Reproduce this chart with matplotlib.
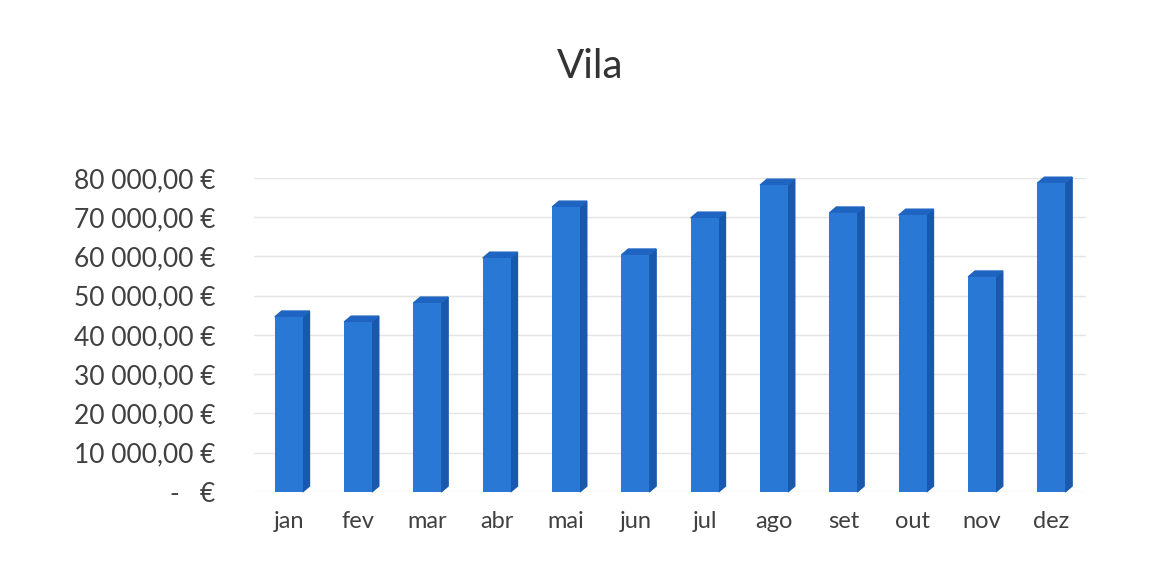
import matplotlib

matplotlib.use("Agg")
import matplotlib.pyplot as plt
from matplotlib.patches import Polygon
from matplotlib.ticker import FuncFormatter

# Monthly totals for "Vila" (EUR).
months = ["jan", "fev", "mar", "abr", "mai", "jun",
          "jul", "ago", "set", "out", "nov", "dez"]
values = [44600, 43300, 48150, 59600, 72600, 60400,
          69800, 78200, 71100, 70550, 54800, 78700]
y_ticks = [0, 10000, 20000, 30000, 40000, 50000, 60000, 70000, 80000]

FRONT = "#2a78d6"
SIDE = "#1a58ad"
TOP = "#1f64c0"
TEXT = "#404040"
FONT = ["Lato", "DejaVu Sans"]


def euro(v, _pos=None):
    if v == 0:
        return "-   €"
    return f"{v:,.2f}".replace(",", " ").replace(".", ",") + " €"


fig = plt.figure(figsize=(11.52, 5.73), dpi=100)
ax = fig.add_axes([0.2205, 0.1414, 0.7222, 0.548])

width = 0.40
dx = 0.10      # depth offset, category units
dy = 1500      # depth offset, value units

x = list(range(len(months)))
ax.bar(x, values, width=width, color=FRONT, zorder=3)
for xi, v in zip(x, values):
    x0, x1 = xi - width / 2, xi + width / 2
    ax.add_patch(Polygon([(x1, 0), (x1 + dx, dy), (x1 + dx, v + dy), (x1, v)],
                         closed=True, color=SIDE, zorder=2, clip_on=False))
    ax.add_patch(Polygon([(x0, v), (x0 + dx, v + dy), (x1 + dx, v + dy), (x1, v)],
                         closed=True, color=TOP, zorder=2, clip_on=False))

ax.set_xlim(-0.5, len(months) - 0.5)
ax.set_ylim(0, 80000)
ax.set_yticks(y_ticks)
ax.yaxis.set_major_formatter(FuncFormatter(euro))
ax.set_xticks(x)
ax.set_xticklabels(months)
ax.grid(axis="y", color="#e4e4e4", linewidth=1.0, zorder=0)
ax.set_axisbelow(True)
for s in ax.spines.values():
    s.set_visible(False)
ax.tick_params(axis="both", length=0, colors=TEXT)
ax.tick_params(axis="y", pad=28, labelsize=19)
ax.tick_params(axis="x", pad=14, labelsize=17)
for lab in ax.get_xticklabels() + ax.get_yticklabels():
    lab.set_family(FONT)

fig.text(0.512, 1 - 66 / 573, "Vila", ha="center", va="center",
         fontsize=29, color="#333333", family=FONT)

fig.savefig("out.png", dpi=100, facecolor="white")
